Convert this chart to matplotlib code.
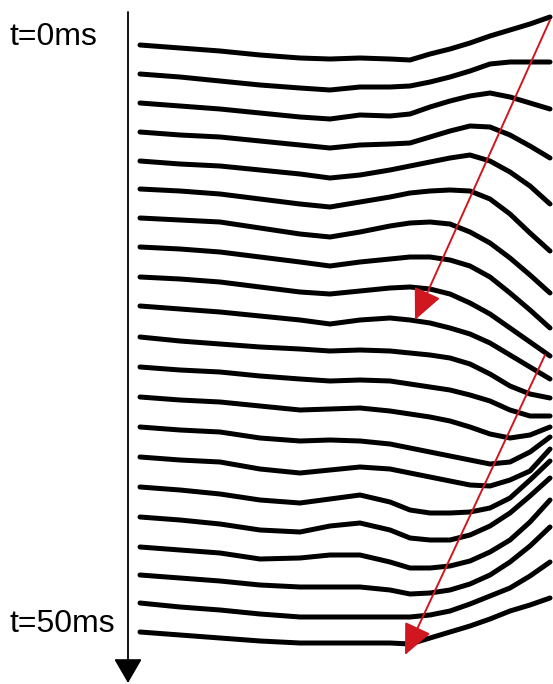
import matplotlib.pyplot as plt
import numpy as np

# horizontal sample positions (image px) shared by all traces
x_pos = [140, 180, 220, 260, 300, 330, 360, 390, 410, 430, 450, 470, 490, 510, 530, 550]

# one row per trace, top (t=0ms) to bottom (t=50ms); values are vertical positions
traces = [
    [45, 48, 51, 55, 58, 59, 58, 59, 60, 54, 49, 43, 36, 30, 24, 17],
    [74, 77, 81, 85, 88, 90, 87, 87, 86, 82, 77, 71, 64, 62, 62, 62],
    [103, 106, 109, 113, 117, 119, 115, 116, 114, 107, 101, 96, 93, 97, 103, 109],
    [132, 135, 137, 141, 145, 148, 145, 144, 143, 137, 131, 126, 127, 135, 146, 158],
    [161, 164, 166, 170, 174, 178, 175, 170, 166, 162, 158, 155, 161, 172, 186, 204],
    [189, 191, 194, 199, 204, 207, 202, 197, 193, 191, 190, 191, 199, 214, 233, 251],
    [218, 220, 222, 228, 234, 237, 232, 226, 223, 222, 224, 232, 243, 258, 275, 293],
    [247, 249, 252, 257, 262, 266, 262, 259, 257, 257, 260, 266, 277, 293, 310, 328],
    [277, 279, 282, 287, 292, 294, 291, 288, 287, 289, 294, 303, 314, 328, 342, 356],
    [306, 309, 312, 316, 320, 324, 320, 318, 320, 323, 328, 334, 343, 355, 367, 379],
    [337, 341, 344, 347, 349, 351, 350, 351, 353, 355, 358, 364, 374, 386, 394, 398],
    [367, 370, 372, 376, 379, 381, 380, 381, 384, 387, 390, 395, 401, 410, 416, 416],
    [397, 400, 402, 406, 410, 409, 408, 411, 414, 417, 421, 427, 434, 438, 435, 427],
    [427, 430, 432, 438, 441, 440, 441, 444, 448, 452, 456, 460, 464, 462, 452, 437],
    [457, 460, 462, 469, 473, 470, 467, 469, 473, 477, 481, 485, 486, 480, 471, 449],
    [487, 490, 494, 500, 503, 499, 495, 502, 510, 513, 513, 512, 508, 498, 480, 461],
    [517, 520, 524, 530, 532, 526, 523, 530, 538, 540, 540, 535, 526, 513, 496, 478],
    [547, 550, 553, 559, 558, 555, 555, 562, 568, 568, 566, 561, 552, 540, 522, 500],
    [575, 578, 581, 585, 587, 587, 587, 590, 594, 593, 590, 584, 575, 562, 546, 527],
    [603, 607, 610, 614, 617, 617, 617, 617, 617, 615, 611, 604, 596, 588, 576, 562],
    [632, 635, 638, 641, 643, 643, 643, 643, 644, 638, 632, 626, 619, 611, 605, 598],
]

time_labels = ["t=0ms", "t=50ms"]

# red arrows: (start, end) of each wave front
fronts = [((550, 20), (415, 320)), ((545, 355), (405, 655))]

fig = plt.figure(figsize=(5.53, 6.84), dpi=100)
ax = fig.add_axes([0, 0, 1, 1])
ax.set_xlim(0, 553)
ax.set_ylim(684, 0)
ax.axis("off")

for tr in traces:
    ax.plot(x_pos, tr, color="black", lw=3.6, solid_joinstyle="round", solid_capstyle="round")

# time axis arrow
ax.annotate("", xy=(128, 683), xytext=(128, 12),
            arrowprops=dict(arrowstyle="-|>,head_length=0.95,head_width=0.55",
                            color="black", lw=1.3, mutation_scale=16, shrinkA=0, shrinkB=0))

ax.text(9, 37, time_labels[0], fontsize=23, family="Liberation Sans", va="center", ha="left")
ax.text(9, 624, time_labels[1], fontsize=23, family="Liberation Sans", va="center", ha="left")

for (x0, y0), (x1, y1) in fronts:
    ax.annotate("", xy=(x1, y1), xytext=(x0, y0),
                arrowprops=dict(arrowstyle="-|>,head_length=1.2,head_width=0.55",
                                color="#d0161e", lw=1.4, mutation_scale=16, shrinkA=0, shrinkB=0))

fig.savefig("out.png", dpi=100)
